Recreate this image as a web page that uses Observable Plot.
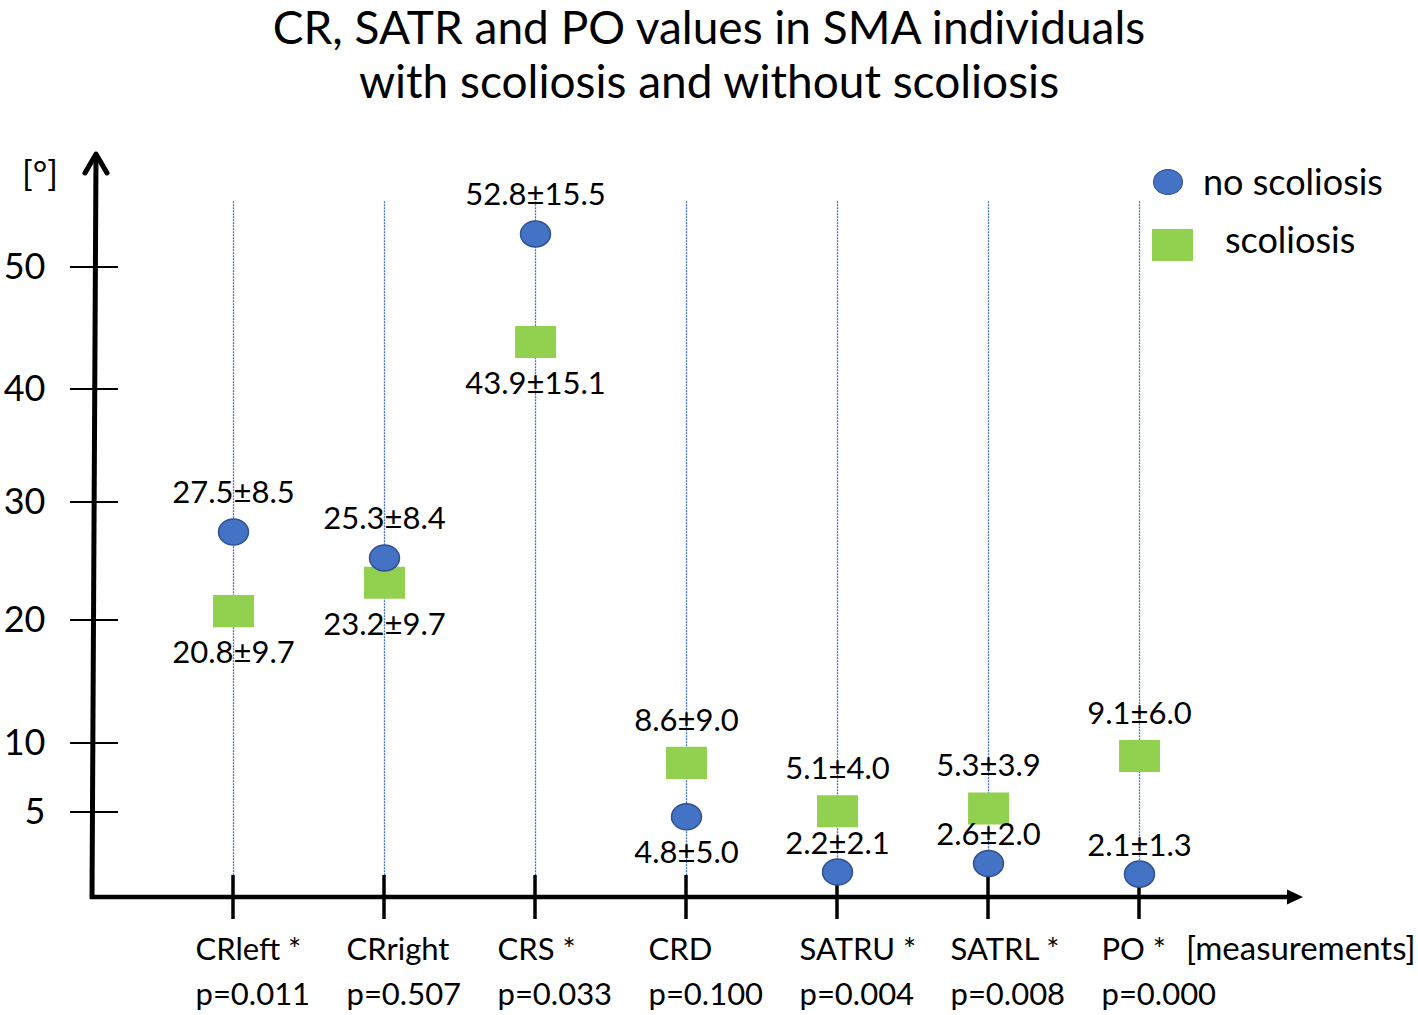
<!DOCTYPE html>
<html><head><meta charset="utf-8">
<script src="https://cdn.jsdelivr.net/npm/d3@7"></script>
<script src="https://cdn.jsdelivr.net/npm/@observablehq/plot@0.6"></script>
<style>
body{margin:0;background:#fff;font-family:Lato,"Open Sans",sans-serif;color:#000;}
#wrap{position:relative;width:1418px;height:1015px;overflow:hidden;}
#title{height:110px;text-align:center;font-size:46px;line-height:54px;position:relative;top:0;white-space:nowrap;}
.ov{position:absolute;white-space:nowrap;}
</style></head><body>
<div id="wrap">
  <div id="title">CR, SATR and PO values in SMA individuals<br>with scoliosis and without scoliosis</div>
  <div id="chart"></div>
  <div class="ov" style="left:22px;top:152px;font-size:35px;line-height:40px;">[°]</div>
  <div class="ov" style="left:1186px;top:928px;font-size:33px;line-height:38px;">[measurements]</div>
  <div class="ov" style="left:1153px;top:169px;width:28px;height:24px;border-radius:50%;background:#4472C4;border:1.5px solid #2F528F;"></div>
  <div class="ov" style="left:1203px;top:160px;font-size:36px;line-height:42px;">no scoliosis</div>
  <div class="ov" style="left:1152px;top:229px;width:41px;height:32px;background:#92D050;"></div>
  <div class="ov" style="left:1225px;top:218px;font-size:36px;line-height:42px;">scoliosis</div>
</div>
<script>
const categories = ["CRleft", "CRright", "CRS", "CRD", "SATRU", "SATRL", "PO"];
const significant = [true, false, true, false, true, true, true];
const pValues = ["0.011", "0.507", "0.033", "0.100", "0.004", "0.008", "0.000"];
const noScoliosisMean = [27.5, 25.3, 52.8, 4.8, 2.2, 2.6, 2.1];
const noScoliosisSD = [8.5, 8.4, 15.5, 5.0, 2.1, 2.0, 1.3];
const scoliosisMean = [20.8, 23.2, 43.9, 8.6, 5.1, 5.3, 9.1];
const scoliosisSD = [9.7, 9.7, 15.1, 9.0, 4.0, 3.9, 6.0];
const yTicks = [5, 10, 20, 30, 40, 50];

const rows = categories.map((c, i) => ({
  category: c,
  no: noScoliosisMean[i], noSD: noScoliosisSD[i],
  sco: scoliosisMean[i], scoSD: scoliosisSD[i],
  p: pValues[i], sig: significant[i]
}));
const fmt = (m, s) => `${m.toFixed(1)}±${s.toFixed(1)}`;
// label placement rules derived from values
const noBelow = d => d.no < d.sco && d.no > 3;   // room below the circle
const noNear = d => !noBelow(d) && d.no < 3;     // squeezed between square and circle
const noFar = d => !noBelow(d) && !noNear(d);
const scoAbove = d => d.sco > d.no;

const ellipse = {
  draw(ctx, size) {
    const r = Math.sqrt(size / Math.PI);
    const rx = r * 1.07, ry = r * 0.93, k = 0.5523;
    ctx.moveTo(rx, 0);
    ctx.bezierCurveTo(rx, ry * k, rx * k, ry, 0, ry);
    ctx.bezierCurveTo(-rx * k, ry, -rx, ry * k, -rx, 0);
    ctx.bezierCurveTo(-rx, -ry * k, -rx * k, -ry, 0, -ry);
    ctx.bezierCurveTo(rx * k, -ry, rx, -ry * k, rx, 0);
    ctx.closePath();
  }
};
const rectSym = {
  draw(ctx, size) {
    const r = Math.sqrt(size / Math.PI);
    ctx.rect(-1.46 * r, -1.14 * r, 2.93 * r, 2.29 * r);
  }
};

function axesMark(index, scales, values, dims) {
  const {x, y} = scales;
  const g = d3.create("svg:g");
  const y0 = dims.height - dims.marginBottom, ax = dims.marginLeft, tip = dims.marginTop;
  // y ticks crossing the axis
  for (const t of yTicks) {
    g.append("line").attr("x1", ax - 22).attr("x2", ax + 26)
      .attr("y1", y(t)).attr("y2", y(t)).attr("stroke", "#000").attr("stroke-width", 2);
  }
  // x ticks
  for (const c of categories) {
    g.append("line").attr("x1", x(c)).attr("x2", x(c))
      .attr("y1", y0 - 22).attr("y2", y0 + 22).attr("stroke", "#000").attr("stroke-width", 3.5);
  }
  // y axis with arrow
  g.append("line").attr("x1", ax).attr("y1", y0 + 2).attr("x2", ax + 4).attr("y2", tip + 4)
    .attr("stroke", "#000").attr("stroke-width", 5);
  g.append("path").attr("d", `M${ax + 4 - 11},${tip + 21}L${ax + 4},${tip + 2}L${ax + 4 + 11},${tip + 21}`)
    .attr("fill", "none").attr("stroke", "#000").attr("stroke-width", 5)
    .attr("stroke-linecap", "round").attr("stroke-linejoin", "round");
  // x axis with arrow
  const xe = dims.width - dims.marginRight + 2;
  g.append("line").attr("x1", ax - 2).attr("y1", y0).attr("x2", xe - 14).attr("y2", y0)
    .attr("stroke", "#000").attr("stroke-width", 4.5);
  g.append("path").attr("d", `M${xe - 16},${y0 - 7.5}L${xe},${y0}L${xe - 16},${y0 + 7.5}Z`).attr("fill", "#000");
  return g.node();
}

const chart = Plot.plot({
  width: 1418,
  height: 905,
  marginLeft: 92,
  marginTop: 42,
  marginRight: 117,
  marginBottom: 118,
  style: {fontFamily: "Lato, 'Open Sans', sans-serif", fontSize: "30px", color: "#000", background: "#fff", overflow: "visible"},
  x: {type: "point", domain: categories, range: [231, 1141], padding: 0, axis: null},
  y: {type: "linear", domain: [1, 5, 10, 20, 30, 40, 50, 60], range: [787, 702, 633, 510, 392, 279, 157, 37]},
  marks: [
    Plot.ruleX(rows, {x: "category", y1: 1.6, y2: 55.5, stroke: "#4472C4", strokeWidth: 1.3, strokeDasharray: "2,1"}),
    axesMark,
    Plot.axisY(yTicks, {anchor: "left", tickSize: 0, tickPadding: 47, fontSize: 36, label: null, tickFormat: d => String(d)}),
    Plot.dot(rows, {x: "category", y: "sco", r: 14, symbol: rectSym, fill: "#92D050"}),
    Plot.dot(rows, {x: "category", y: "no", r: 14, symbol: ellipse, fill: "#4472C4", stroke: "#2F528F", strokeWidth: 1.5}),
    Plot.text(rows.filter(noFar), {x: "category", y: "no", text: d => fmt(d.no, d.noSD), dy: -39, fontSize: 31, fill: "#000"}),
    Plot.text(rows.filter(noNear), {x: "category", y: "no", text: d => fmt(d.no, d.noSD), dy: -28, fontSize: 31, fill: "#000"}),
    Plot.text(rows.filter(noBelow), {x: "category", y: "no", text: d => fmt(d.no, d.noSD), dy: 36, fontSize: 31, fill: "#000"}),
    Plot.text(rows.filter(scoAbove), {x: "category", y: "sco", text: d => fmt(d.sco, d.scoSD), dy: -42, fontSize: 31, fill: "#000"}),
    Plot.text(rows.filter(d => !scoAbove(d)), {x: "category", y: "sco", text: d => fmt(d.sco, d.scoSD), dy: 42, fontSize: 31, fill: "#000"}),
    Plot.text(rows, {x: "category", frameAnchor: "bottom", lineAnchor: "middle", text: d => `${d.category}${d.sig ? " *" : ""}\np=${d.p}`,
      textAnchor: "start", dx: -38, dy: 71, lineHeight: 1.45, fontSize: 31, fill: "#000"})
  ]
});
document.getElementById("chart").appendChild(chart);
</script>
</body></html>
